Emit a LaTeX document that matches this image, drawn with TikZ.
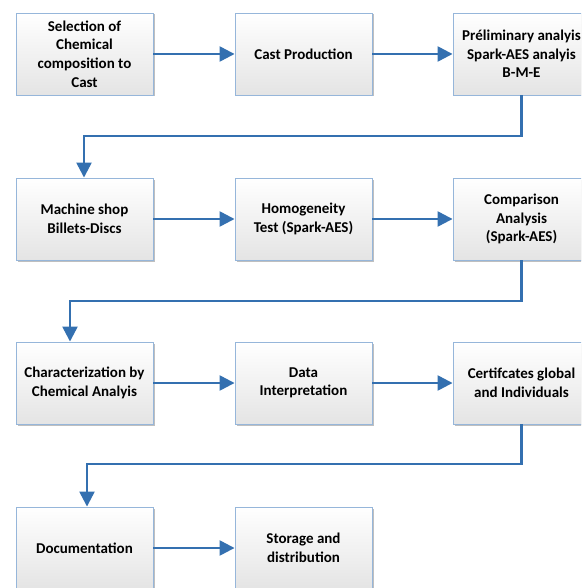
\documentclass[tikz,border=0pt]{standalone}
\usepackage{fontspec}
\setmainfont{Carlito}
\usetikzlibrary{arrows.meta,shadows}
\definecolor{flowblue}{RGB}{52,112,176}
\definecolor{boxline}{RGB}{150,182,218}
\definecolor{boxgray}{RGB}{228,228,228}
\tikzset{
  stage/.style={draw=boxline, line width=0.9pt, top color=white, bottom color=boxgray,
    minimum width=137pt, minimum height=82pt, align=center, inner sep=2pt,
    font=\bfseries\fontsize{15}{18.6}\selectfont,
    drop shadow={shadow xshift=1.5pt, shadow yshift=-1.5pt, opacity=0.25, fill=black}},
  flow/.style={draw=flowblue, line width=2.4pt, -{Triangle[length=15pt,width=15pt]}}
}
\begin{document}
\begin{tikzpicture}[x=1pt,y=-1pt]
\useasboundingbox (0,0) rectangle (581,588);
\clip (0,0) rectangle (581,588);

% Row 1
\node[stage] (sel)  at (84.5,54)  {Selection of\\Chemical\\composition to\\Cast};
\node[stage] (cast) at (303.5,54) {Cast Production};
\node[stage] (pre)  at (521.5,54) {Préliminary analyis\\Spark-AES analyis\\B-M-E};

% Row 2
\node[stage] (mach) at (84.5,219)  {Machine shop\\Billets-Discs};
\node[stage] (homo) at (303.5,219) {Homogeneity\\Test (Spark-AES)};
\node[stage] (comp) at (521.5,219) {Comparison\\Analysis\\(Spark-AES)};

% Row 3
\node[stage] (char) at (84.5,383)  {Characterization by\\Chemical Analyis};
\node[stage] (data) at (303.5,383) {Data\\Interpretation};
\node[stage] (cert) at (521.5,383) {Certifcates global\\and Individuals};

% Row 4
\node[stage] (doc)   at (84.5,548)  {Documentation};
\node[stage] (store) at (303.5,548) {Storage and\\distribution};

% Bends
\coordinate (k1) at (84,136);
\coordinate (k2) at (70,301);
\coordinate (k3) at (87,464);

% Flow
\draw[flow] (sel) -- (cast);
\draw[flow] (cast) -- (pre);
\draw[flow] (pre.south) |- (k1) -- (k1 |- mach.north);
\draw[flow] (mach) -- (homo);
\draw[flow] (homo) -- (comp);
\draw[flow] (comp.south) |- (k2) -- (k2 |- char.north);
\draw[flow] (char) -- (data);
\draw[flow] (data) -- (cert);
\draw[flow] (cert.south) |- (k3) -- (k3 |- doc.north);
\draw[flow] (doc) -- (store);
\end{tikzpicture}
\end{document}
